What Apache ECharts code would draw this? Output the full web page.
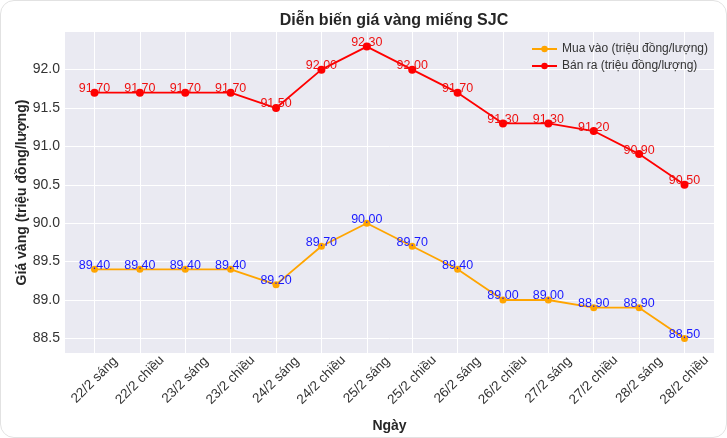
<!DOCTYPE html>
<html><head><meta charset="utf-8">
<script src="https://cdn.jsdelivr.net/npm/echarts@6/dist/echarts.min.js"></script>
<style>
html,body{margin:0;padding:0;background:#fff;}
#wrap{position:relative;width:727px;height:438px;}
#c{width:727px;height:438px;}
#b{position:absolute;left:0;top:0;width:727px;height:438px;box-sizing:border-box;border:1px solid #e2e2e2;border-radius:14px;pointer-events:none;}
</style></head>
<body><div id="wrap"><div id="c"></div><div id="b"></div></div>
<script>
const categories = ["22/2 sáng","22/2 chiều","23/2 sáng","23/2 chiều","24/2 sáng","24/2 chiều","25/2 sáng","25/2 chiều","26/2 sáng","26/2 chiều","27/2 sáng","27/2 chiều","28/2 sáng","28/2 chiều"];
const buyValues = [89.4,89.4,89.4,89.4,89.2,89.7,90.0,89.7,89.4,89.0,89.0,88.9,88.9,88.5];
const sellValues = [91.7,91.7,91.7,91.7,91.5,92.0,92.3,92.0,91.7,91.3,91.3,91.2,90.9,90.5];
const yTicks = [88.5,89.0,89.5,90.0,90.5,91.0,91.5,92.0];

const font = "Liberation Sans, Arial, sans-serif";
const chart = echarts.init(document.getElementById('c'), null, {renderer:'canvas'});
const xIdx = categories.map((_, i) => i);
function pairs(vals){ return vals.map((v,i)=>[i,v]); }
const labelCommon = {show:true, position:'inside', offset:[0,-4], fontFamily:font, fontSize:12.5,
  formatter: p => p.value[1].toFixed(2)};
chart.setOption({
  backgroundColor:'transparent',
  animation:false,
  title:{text:'Diễn biến giá vàng miếng SJC', left:389, top:8, textAlign:'center',
    textStyle:{fontFamily:font, fontSize:16, fontWeight:'bold', color:'#262626'}},
  legend:{top:38, right:14, orient:'vertical', itemGap:5, itemWidth:25, itemHeight:8,
    textStyle:{fontFamily:font, fontSize:12, color:'#333'},
    data:['Mua vào (triệu đồng/lượng)','Bán ra (triệu đồng/lượng)']},
  grid:{left:65, right:13, top:32, bottom:84, show:true, backgroundColor:'#EAEAF2', borderWidth:0},
  xAxis:{type:'value', min:-0.65, max:13.65,
    name:'Ngày', nameLocation:'middle', nameGap:66, nameMoveOverlap:false,
    nameTextStyle:{fontFamily:font, fontSize:14, fontWeight:'bold', color:'#262626'},
    axisLine:{show:false}, axisTick:{show:false, customValues:xIdx},
    axisLabel:{customValues:xIdx, rotate:45, align:'center', verticalAlign:'middle', margin:27,
      fontFamily:font, fontSize:13.5, color:'#333',
      formatter:v=>categories[Math.round(v)]},
    splitLine:{show:true, lineStyle:{color:'#fff', width:1}}},
  yAxis:{type:'value', min:88.31, max:92.49,
    name:'Giá vàng (triệu đồng/lượng)', nameLocation:'middle', nameGap:36, nameMoveOverlap:false,
    nameTextStyle:{fontFamily:font, fontSize:14, fontWeight:'bold', color:'#262626'},
    axisLine:{show:false}, axisTick:{show:false, customValues:yTicks},
    axisLabel:{customValues:yTicks, margin:5, fontFamily:font, fontSize:14, color:'#333',
      formatter:v=>v.toFixed(1)},
    splitLine:{show:true, lineStyle:{color:'#fff', width:1}}},
  series:[
    {name:'Mua vào (triệu đồng/lượng)', type:'line', data:pairs(buyValues),
      color:'#FFA500', symbol:'circle', symbolSize:7, lineStyle:{width:1.8},
      label:Object.assign({color:'#1a1aff'}, labelCommon)},
    {name:'Bán ra (triệu đồng/lượng)', type:'line', data:pairs(sellValues),
      color:'#FF0000', symbol:'circle', symbolSize:8, lineStyle:{width:1.8},
      label:Object.assign({color:'#ee1111'}, labelCommon)}
  ]
});
</script></body></html>
